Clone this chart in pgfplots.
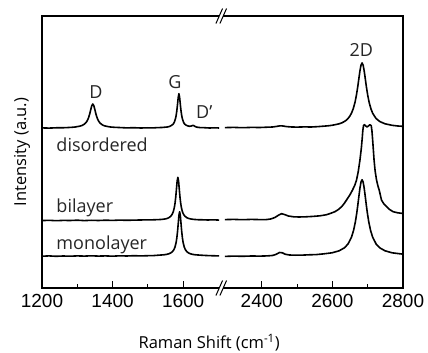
\documentclass[border=0pt]{standalone}
\usepackage{fontspec}
\setmainfont{Liberation Sans}
\newfontfamily\labfont{Open Sans}
\usepackage{pgfplots}
\usepackage{pgfplotstable}
\pgfplotsset{compat=1.18}
% disordered, left segment
\pgfplotstableread{
x y
1200 160.1
1220 159.9
1240 160.2
1255 160.2
1270 160.4
1285 160.7
1294 161.0
1302 161.5
1309 162.0
1314 162.6
1318 163.4
1321 164.2
1324 165.2
1326 166.1
1328 167.2
1330 168.6
1332 170.4
1335 173.8
1338 178.1
1341 182.2
1344 184.0
1347 182.2
1350 178.1
1353 173.8
1356 170.4
1358 168.6
1360 167.2
1362 166.1
1364 165.2
1367 164.2
1370 163.4
1374 162.6
1379 162.0
1386 161.5
1394 161.0
1405 160.7
1424 160.4
1440 160.1
1460 160.3
1480 160.0
1500 160.2
1515 160.1
1528 160.4
1540 160.5
1548 160.8
1555 161.0
1562 161.6
1568 162.8
1572 164.0
1575 165.8
1578 169.0
1580 172.2
1582 177.0
1584 183.5
1586 190.6
1588 194.3
1590 190.6
1592 183.5
1594 177.0
1596 172.2
1598 169.0
1601 165.8
1604 164.0
1608 162.9
1613 162.1
1618 161.7
1623 162.0
1626 162.4
1628 162.7
1631 162.2
1634 161.5
1638 160.9
1648 160.4
1660 160.3
1675 160.0
1690 160.2
1702 160.0
}\disL
% disordered, right segment
\pgfplotstableread{
x y
2295 160.4
2320 160.6
2345 160.3
2370 160.6
2395 160.5
2415 160.8
2430 161.0
2442 161.6
2452 162.2
2460 162.0
2470 161.4
2485 161.0
2500 160.9
2520 161.1
2540 161.0
2560 161.4
2574 161.8
2588 162.2
2599 162.7
2609 163.4
2619 164.2
2627 165.2
2634 166.5
2640 168.0
2644 169.4
2649 171.7
2654 174.8
2659 179.3
2664 185.7
2668 192.8
2672 201.8
2675 209.6
2678 217.1
2681 222.9
2684 225.1
2687 222.9
2690 217.1
2693 209.6
2696 201.8
2700 192.8
2704 185.7
2709 179.3
2714 174.8
2719 172.0
2724 169.4
2734 166.5
2749 164.2
2769 162.7
2785 162.0
2800 161.7
}\disR
% bilayer, left segment
\pgfplotstableread{
x y
1200 67.4
1220 67.7
1240 67.3
1260 67.6
1280 67.5
1300 67.8
1320 67.4
1340 67.7
1360 67.5
1380 67.8
1400 67.6
1420 67.9
1440 67.7
1465 67.9
1490 68.1
1515 68.2
1530 68.4
1540 68.6
1550 69.1
1555 69.6
1560 70.4
1565 71.8
1569 73.8
1572 76.3
1575 80.5
1577 84.8
1579 90.9
1581 98.9
1583 107.0
1585 110.7
1587 107.0
1589 98.9
1591 90.9
1593 84.8
1595 80.5
1597 77.5
1599 75.3
1602 73.2
1605 71.8
1610 70.4
1615 69.6
1622 69.0
1630 68.6
1642 68.3
1655 68.2
1670 68.0
1685 68.2
1702 67.9
}\biL
% bilayer, right segment
\pgfplotstableread{
x y
2295 68.4
2320 68.6
2345 68.3
2370 68.6
2395 68.4
2410 68.3
2425 69.0
2437 70.5
2447 72.8
2456 74.3
2465 73.4
2475 72.0
2490 71.2
2505 71.0
2525 71.2
2545 71.6
2565 72.2
2582 73.2
2593 74.4
2607 76.3
2617 78.5
2626 81.3
2633 84.3
2640 88.0
2649 92.8
2657 98.0
2663 102.5
2668 107.5
2673 116.0
2678 128.0
2682 140.0
2684.5 150.0
2686 157.0
2688 162.3
2690.5 163.3
2694 162.2
2698 161.0
2702 162.0
2706 163.3
2710 162.3
2712 157.0
2714 148.0
2716 138.0
2718 128.0
2721 117.0
2725 108.0
2729 102.0
2732.5 98.0
2739 88.0
2746 84.0
2753.5 81.3
2762 78.5
2772 76.3
2785 75.2
2800 74.5
}\biR
% monolayer, left segment
\pgfplotstableread{
x y
1200 31.8
1220 32.1
1240 31.7
1260 32.0
1280 31.8
1300 32.1
1320 31.9
1340 32.2
1360 31.9
1380 32.1
1400 31.8
1420 32.2
1440 32.0
1460 32.3
1480 32.1
1500 32.3
1515 32.4
1530 32.8
1545 33.2
1553 33.6
1560 34.3
1565 35.1
1570 36.5
1574 38.5
1577 41.1
1580 45.4
1582 49.8
1584 56.1
1586 64.2
1588 72.5
1590 76.3
1592 72.5
1594 64.2
1596 56.1
1598 49.8
1600 45.4
1603 41.1
1606 38.5
1610 36.5
1615 35.1
1620 34.3
1627 33.6
1635 33.2
1650 32.8
1665 32.5
1680 32.3
1702 32.1
}\moL
% monolayer, right segment
\pgfplotstableread{
x y
2295 31.6
2320 31.9
2345 31.7
2370 32.0
2395 31.9
2415 32.1
2430 32.5
2440 33.6
2450 35.5
2458 35.2
2466 33.8
2478 33.0
2495 32.8
2515 32.9
2534 33.2
2554 33.4
2574 34.1
2599 35.2
2619 37.2
2634 40.2
2644 43.9
2654 50.8
2660 57.7
2665 66.1
2669 75.0
2672 83.0
2675 91.7
2678 99.9
2681 106.0
2684 108.3
2687 106.0
2690 99.9
2693 91.7
2696 83.0
2699 75.0
2703 66.1
2708 57.7
2714 50.8
2724 43.9
2734 40.2
2749 37.2
2769 35.2
2794 34.1
2800 33.9
}\moR
\begin{document}
\begin{tikzpicture}
\useasboundingbox (-42pt,-65pt) rectangle (386pt,288pt);
\begin{axis}[
  at={(0,0)}, anchor=south west,
  scale only axis, width=361pt, height=272pt,
  xmin=1200, xmax=2223, ymin=0, ymax=272,
  axis line style={line width=1.1pt},
  tick align=inside,
  xtick pos=bottom, ytick pos=both,
  xtick={1200,1400,1600,1823,2023,2223},
  xticklabels={1200,1400,1600,2400,2600,2800},
  minor xtick={1300,1500,1923,2123},
  ytick=\empty,
  minor ytick={33,112,191},
  major tick length=7pt, minor tick length=4pt,
  tick style={line width=0.9pt, black},
  xticklabel style={font=\fontsize{19}{20}\selectfont, yshift=-3pt},
  xlabel={Raman Shift (cm\textsuperscript{-1})},
  xlabel style={font=\labfont\fontsize{16.5}{18}\selectfont, at={(axis description cs:0.463,-0.224)}, anchor=base},
  ylabel={Intensity (a.u.)},
  ylabel style={font=\labfont\fontsize{16.5}{18}\selectfont, at={(axis description cs:-0.055,0.5)}, anchor=center},
  spec/.style={black, line width=1.6pt, line join=round, mark=none},
  clip=false,
]
\addplot[spec] table[x=x, y=y] {\disL};
\addplot[spec] table[x expr=\thisrow{x}-577, y=y] {\disR};
\addplot[spec] table[x=x, y=y] {\biL};
\addplot[spec] table[x expr=\thisrow{x}-577, y=y] {\biR};
\addplot[spec] table[x=x, y=y] {\moL};
\addplot[spec] table[x expr=\thisrow{x}-577, y=y] {\moR};
\begin{scope}[font=\labfont\fontsize{18}{20}\selectfont, text=black!85]
\node[anchor=base] at (axis cs:1353,189.7) {D};
\node[anchor=base] at (axis cs:1577,199.7) {G};
\node[anchor=base west] at (axis cs:1627,169.7) {D’};
\node[anchor=base] at (axis cs:2105,231.3) {2D};
\node[anchor=base west] at (axis cs:1231,136.3) {disordered};
\node[anchor=base west] at (axis cs:1231,75.3) {bilayer};
\node[anchor=base west] at (axis cs:1231,38.7) {monolayer};
\end{scope}
\coordinate (T1) at (axis cs:1702.3,272);
\coordinate (T2) at (axis cs:1713.6,272);
\coordinate (B1) at (axis cs:1702.3,0);
\coordinate (B2) at (axis cs:1713.6,0);
\end{axis}
\draw[white, line width=3pt] (T1) -- (T2);
\draw[white, line width=3pt] (B1) -- (B2);
\foreach \p in {T1,T2,B1,B2}
  \draw[line width=1pt] (\p) +(-3.3pt,-7.5pt) -- +(3.3pt,7.5pt);
\end{tikzpicture}
\end{document}
